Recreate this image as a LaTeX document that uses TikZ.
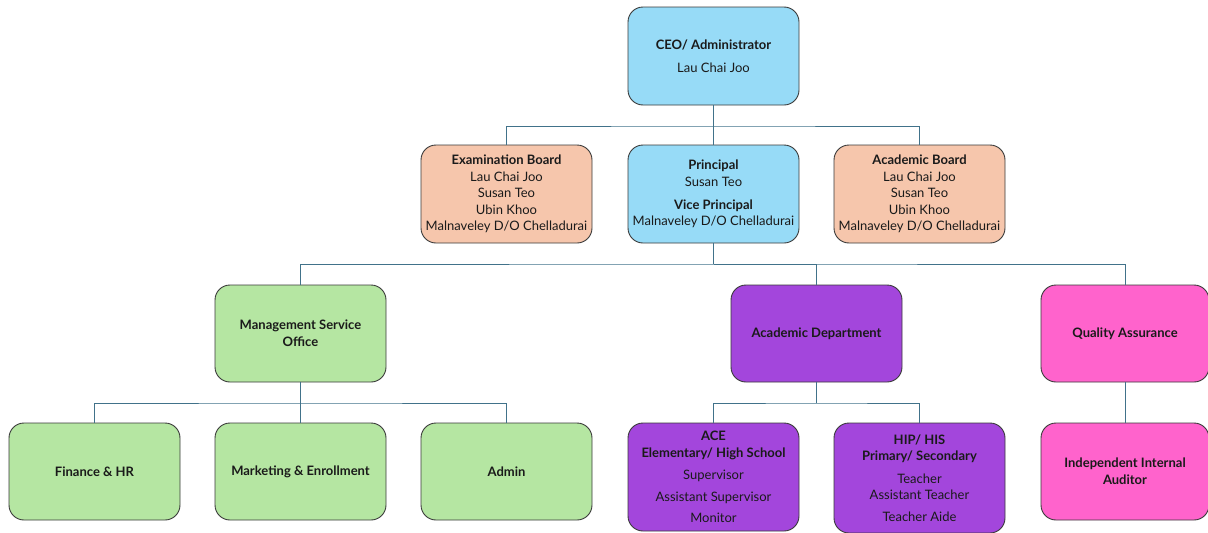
\documentclass[tikz,border=0pt]{standalone}
\usepackage{fontspec}
\setmainfont{Lato}
\definecolor{cblue}{HTML}{97DBF7}
\definecolor{cpeach}{HTML}{F6C6AC}
\definecolor{cgreen}{HTML}{B5E6A2}
\definecolor{cpurple}{HTML}{A346DC}
\definecolor{cpink}{HTML}{FF63CC}
\definecolor{cline}{HTML}{41728A}
\definecolor{cborder}{HTML}{3A3A3A}
\definecolor{ctext}{HTML}{1A1A1A}
\tikzset{
  box/.style={draw=cborder, line width=0.9pt, rounded corners=15pt, minimum width=171pt, minimum height=98pt, align=center, inner sep=2pt, text=ctext, font=\fontsize{13}{16.6}\selectfont},
  bluebox/.style={box, fill=cblue},
  peachbox/.style={box, fill=cpeach},
  greenbox/.style={box, fill=cgreen},
  purplebox/.style={box, fill=cpurple},
  pinkbox/.style={box, fill=cpink},
  conn/.style={draw=cline, line width=1pt}
}
\begin{document}
\begin{tikzpicture}[x=1pt,y=-1pt]
\useasboundingbox (0,0) rectangle (1208,533);
% row 1
\node[bluebox] (ceo) at (713.5,56) {\textbf{CEO/ Administrator}\\[6pt]Lau Chai Joo};
% row 2
\node[peachbox] (exam) at (506.5,194) {\textbf{Examination Board}\\Lau Chai Joo\\Susan Teo\\Ubin Khoo\\Malnaveley D/O Chelladurai};
\node[bluebox] (prin) at (713.5,194) {\textbf{Principal}\\Susan Teo\\[6pt]\textbf{Vice Principal}\\Malnaveley D/O Chelladurai};
\node[peachbox] (acb) at (919.5,194) {\textbf{Academic Board}\\Lau Chai Joo\\Susan Teo\\Ubin Khoo\\Malnaveley D/O Chelladurai};
% row 3
\node[greenbox, minimum height=97pt] (mso) at (300.5,333.5) {\textbf{Management Service}\\\textbf{Office}};
\node[purplebox, minimum height=97pt] (ad) at (816.5,333.5) {\textbf{Academic Department}};
\node[pinkbox, minimum width=168pt, minimum height=97pt] (qa) at (1125,333.5) {\textbf{Quality Assurance}};
% row 4
\node[greenbox, minimum height=97pt] (fin) at (94.5,471.5) {\textbf{Finance \& HR}};
\node[greenbox, minimum height=97pt] (mkt) at (300.5,471.5) {\textbf{Marketing \& Enrollment}};
\node[greenbox, minimum height=97pt] (adm) at (506.5,471.5) {\textbf{Admin}};
\node[purplebox, minimum height=108pt] (ace) at (713.5,477) {\textbf{ACE}\\\textbf{Elementary/ High School}\\[6pt]Supervisor\\[5pt]Assistant Supervisor\\[5pt]Monitor};
\node[purplebox, minimum height=110pt] (hip) at (919.5,478) {\textbf{HIP/ HIS}\\\textbf{Primary/ Secondary}\\[6pt]Teacher\\Assistant Teacher\\[5pt]Teacher Aide};
\node[pinkbox, minimum width=168pt, minimum height=97pt] (iia) at (1125,471.5) {\textbf{Independent Internal}\\\textbf{Auditor}};
% connectors
\coordinate (bus1) at (713.5,126);
\coordinate (bus2) at (713.5,264);
\coordinate (bus3) at (300.5,403);
\coordinate (bus4) at (816.5,403);
\path[conn] (ceo.south) -- (prin.north);
\path[conn] (exam.north) |- (bus1) -| (acb.north);
\path[conn] (prin.south) -- (bus2);
\path[conn] (mso.north) |- (bus2) -| (qa.north);
\path[conn] (ad.north) |- (bus2);
\path[conn] (mso.south) -- (mkt.north);
\path[conn] (fin.north) |- (bus3) -| (adm.north);
\path[conn] (ad.south) -- (bus4);
\path[conn] (ace.north) |- (bus4) -| (hip.north);
\path[conn] (qa.south) -- (iia.north);
\end{tikzpicture}
\end{document}
